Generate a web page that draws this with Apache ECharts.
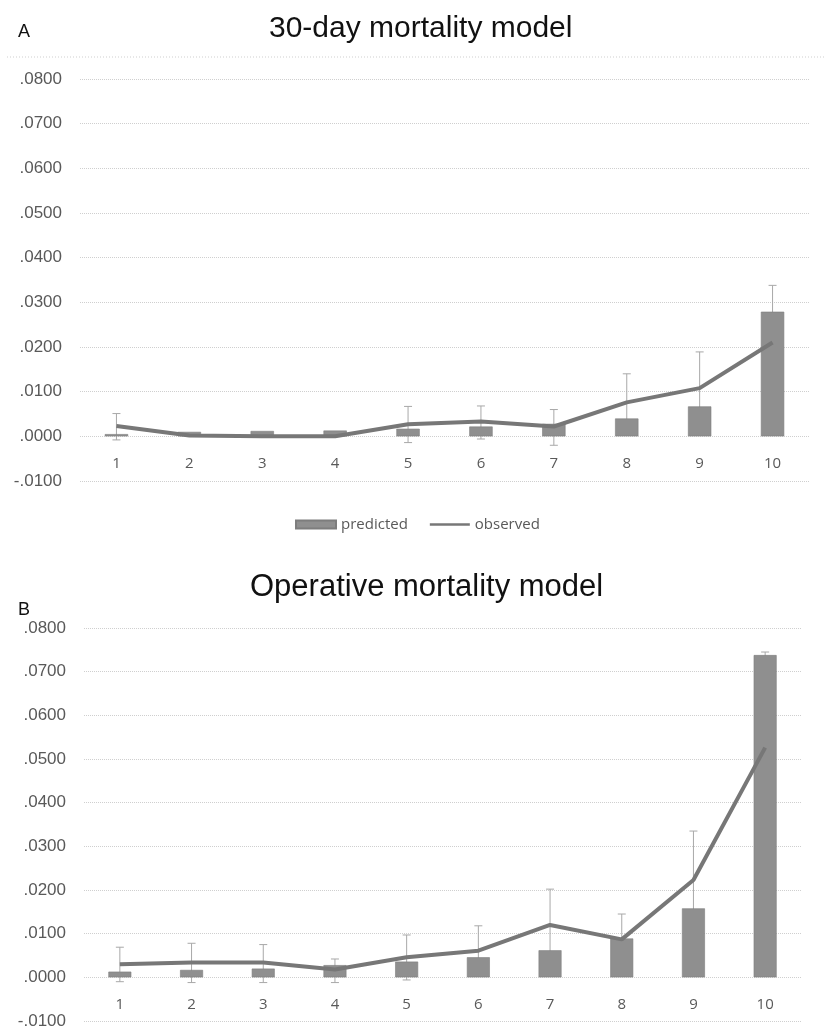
<!DOCTYPE html>
<html>
<head>
<meta charset="utf-8">
<script src="https://cdn.jsdelivr.net/npm/echarts@6/dist/echarts.min.js"></script>
<style>
  html, body { margin: 0; padding: 0; background: #ffffff; }
  #chart { width: 827px; height: 1030px; }
</style>
</head>
<body>
<div id="chart"></div>
<script>
// Risk deciles on the x axis
const deciles = ['1', '2', '3', '4', '5', '6', '7', '8', '9', '10'];

// Panel A: 30-day mortality
const aPredicted = [0.0005, 0.0010, 0.0012, 0.0013, 0.0017, 0.0022, 0.0028, 0.0040, 0.0067, 0.0279];
const aObserved  = [0.0023, 0.0002, 0.0000, 0.0000, 0.0027, 0.0033, 0.0022, 0.0076, 0.0108, 0.0210];
const aCiLow     = [-0.0008, null, null, null, -0.0014, -0.0006, -0.0020, 0.0012, 0.0027, 0.0082];
const aCiHigh    = [0.0051, null, null, null, 0.0067, 0.0068, 0.0060, 0.0140, 0.0189, 0.0338];

// Panel B: operative mortality
const bPredicted = [0.0013, 0.0017, 0.0020, 0.0028, 0.0036, 0.0046, 0.0062, 0.0089, 0.0158, 0.0738];
const bObserved  = [0.0030, 0.0034, 0.0034, 0.0018, 0.0046, 0.0061, 0.0120, 0.0087, 0.0223, 0.0526];
const bCiLow     = [-0.0010, -0.0012, -0.0012, -0.0012, -0.0006, 0.0004, 0.0038, 0.0029, 0.0111, 0.0700];
const bCiHigh    = [0.0069, 0.0078, 0.0075, 0.0042, 0.0097, 0.0118, 0.0202, 0.0145, 0.0335, 0.0745];

const Y_MIN = -0.01, Y_MAX = 0.08, Y_STEP = 0.01;

const BAR_COLOR = '#8f8f8f';
const LINE_COLOR = '#777777';
const ERR_COLOR = '#a8a8a8';
const GRID_COLOR = '#cfcfcf';
const LABEL_COLOR = '#595959';

function fmtTick(v) {
  const s = (Math.round(v * 10000) / 10000).toFixed(4);
  return s.replace('0.', '.');
}

function errorData(low, high) {
  const out = [];
  low.forEach((l, i) => {
    if (l !== null && high[i] !== null) out.push([i, l, high[i]]);
  });
  return out;
}

function renderError(params, api) {
  const x = api.value(0);
  const lo = api.coord([x, api.value(1)]);
  const hi = api.coord([x, api.value(2)]);
  const hw = 4;
  const style = { stroke: ERR_COLOR, lineWidth: 1, fill: null };
  return {
    type: 'group',
    children: [
      { type: 'line', shape: { x1: hi[0], y1: hi[1], x2: lo[0], y2: lo[1] }, style },
      { type: 'line', shape: { x1: hi[0] - hw, y1: hi[1], x2: hi[0] + hw, y2: hi[1] }, style },
      { type: 'line', shape: { x1: lo[0] - hw, y1: lo[1], x2: lo[0] + hw, y2: lo[1] }, style }
    ]
  };
}

// The category labels sit just under the zero line: the axis is lifted from
// the bottom of the grid by the height of one tick step.
function xAxisFor(gridIndex, gridHeight) {
  const zeroLift = gridHeight * (0 - Y_MIN) / (Y_MAX - Y_MIN);
  return {
    type: 'category',
    gridIndex,
    data: deciles,
    boundaryGap: true,
    offset: -zeroLift,
    axisLine: { show: false },
    axisTick: { show: false },
    axisLabel: { color: LABEL_COLOR, fontFamily: 'Open Sans', fontSize: 15, margin: 20 }
  };
}

function yAxisFor(gridIndex) {
  return {
    type: 'value',
    gridIndex,
    min: Y_MIN,
    max: Y_MAX,
    interval: Y_STEP,
    axisLine: { show: false },
    axisTick: { show: false },
    splitLine: { show: true, lineStyle: { color: GRID_COLOR, type: 'dotted', width: 1 } },
    axisLabel: {
      color: LABEL_COLOR, fontFamily: 'Liberation Sans', fontSize: 17, margin: 18,
      formatter: fmtTick
    }
  };
}

function panelSeries(idx, predicted, observed, low, high) {
  return [
    {
      name: 'error', type: 'custom', xAxisIndex: idx, yAxisIndex: idx,
      renderItem: renderError, data: errorData(low, high), z: 1, silent: true,
      encode: { x: 0, y: [1, 2] }
    },
    {
      name: 'predicted', type: 'bar', xAxisIndex: idx, yAxisIndex: idx,
      data: predicted, barWidth: '32%', z: 2,
      itemStyle: { color: BAR_COLOR, borderColor: '#7d7d7d', borderWidth: 0.6 }
    },
    {
      name: 'observed', type: 'line', xAxisIndex: idx, yAxisIndex: idx,
      data: observed, showSymbol: false, symbol: 'none', z: 3,
      lineStyle: { color: LINE_COLOR, width: 4 },
      itemStyle: { color: LINE_COLOR }
    }
  ];
}

const GRID_A = { left: 80, top: 79, width: 729, height: 402 };
const GRID_B = { left: 84, top: 628, width: 717, height: 393 };

const chart = echarts.init(document.getElementById('chart'), null, { renderer: 'canvas' });

chart.setOption({
  animation: false,
  backgroundColor: '#ffffff',
  title: [
    { text: 'A', left: 13, top: 18, textStyle: { fontFamily: 'Liberation Sans', fontSize: 18, fontWeight: 'normal', color: '#111' } },
    { text: '30-day mortality model', left: 264, top: 9, textStyle: { fontFamily: 'Liberation Sans', fontSize: 30, fontWeight: 'normal', color: '#111' } },
    { text: 'B', left: 13, top: 596, textStyle: { fontFamily: 'Liberation Sans', fontSize: 18, fontWeight: 'normal', color: '#111' } },
    { text: 'Operative mortality model', left: 245, top: 567, textStyle: { fontFamily: 'Liberation Sans', fontSize: 31, fontWeight: 'normal', color: '#111' } }
  ],
  legend: {
    data: [
      { name: 'predicted', icon: 'rect' },
      { name: 'observed', icon: 'path://M0,0 L44,0 L44,3 L0,3 Z' }
    ],
    left: 290,
    top: 512,
    itemWidth: 40,
    itemHeight: 8,
    itemGap: 22,
    symbolKeepAspect: true,
    textStyle: { color: LABEL_COLOR, fontFamily: 'Open Sans', fontSize: 15 }
  },
  graphic: [
    {
      type: 'line', silent: true,
      shape: { x1: 7, y1: 57, x2: 826, y2: 57 },
      style: { stroke: GRID_COLOR, lineWidth: 1, lineDash: [1, 2] }
    }
  ],
  grid: [GRID_A, GRID_B],
  xAxis: [xAxisFor(0, GRID_A.height), xAxisFor(1, GRID_B.height)],
  yAxis: [yAxisFor(0), yAxisFor(1)],
  series: [
    ...panelSeries(0, aPredicted, aObserved, aCiLow, aCiHigh),
    ...panelSeries(1, bPredicted, bObserved, bCiLow, bCiHigh)
  ]
});
</script>
</body>
</html>
